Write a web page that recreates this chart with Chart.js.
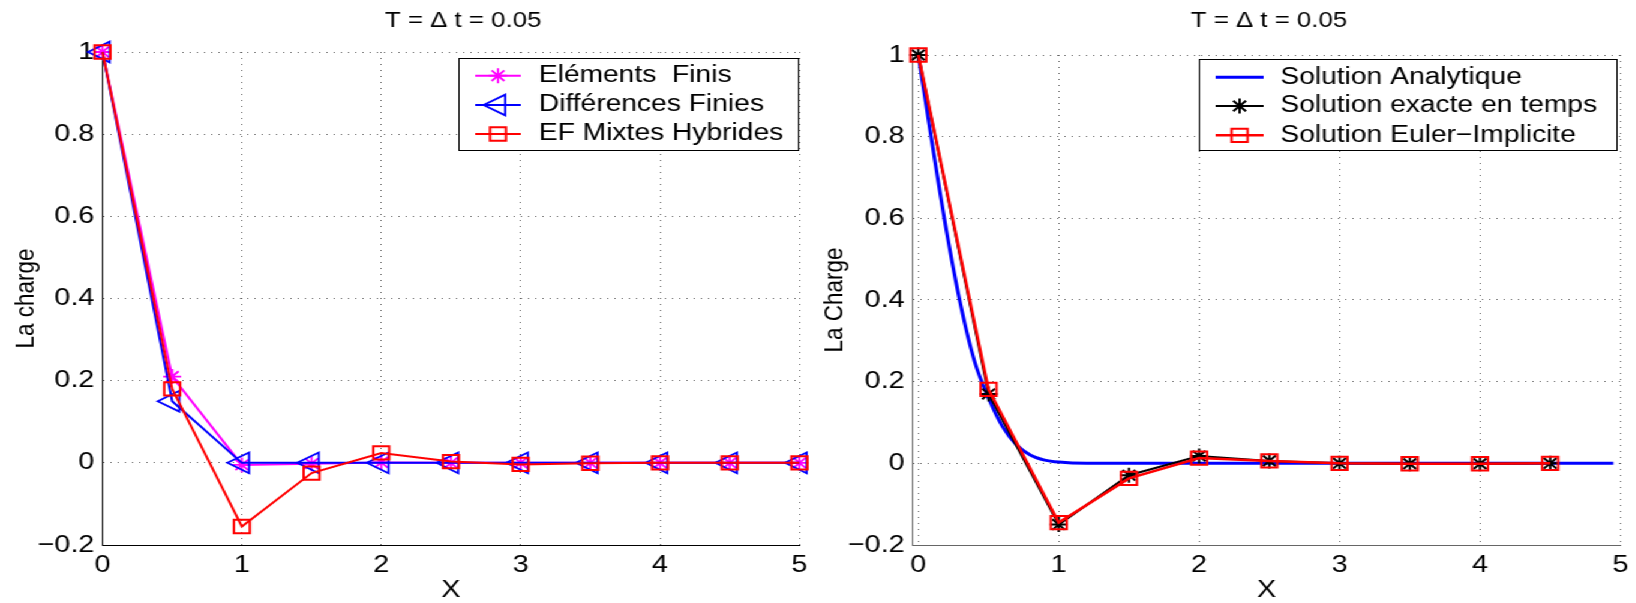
<!DOCTYPE html>
<html>
<head>
<meta charset="utf-8">
<script src="https://cdn.jsdelivr.net/npm/chart.js@4.4.1/dist/chart.umd.min.js"></script>
<style>
  html, body { margin: 0; padding: 0; background: #fff; }
  body { width: 1636px; height: 603px; overflow: hidden; position: relative; }
  /* the reference is horizontally stretched, so the whole stage is too */
  #stage { position: absolute; left: 0; top: 0; width: 1363px; height: 603px; transform: scaleX(1.2); transform-origin: 0 0; }
  canvas { position: absolute; top: 0; }
</style>
</head>
<body>
<div id="stage">
  <canvas id="left" width="680" height="603" style="left:0"></canvas>
  <canvas id="right" width="683" height="603" style="left:680px"></canvas>
</div>
<script>
// abscisses des noeuds
const xNodes = [0, 0.5, 1, 1.5, 2, 2.5, 3, 3.5, 4, 4.5, 5];
const xNodesRight = [0, 0.5, 1, 1.5, 2, 2.5, 3, 3.5, 4, 4.5];

// graphe de gauche
const elementsFinis = [1, 0.21, -0.005, -0.002, 0.001, 0, 0, 0, 0, 0, 0];
const differencesFinies = [1, 0.15, 0, 0, 0, 0, 0, 0, 0, 0, 0];
const efMixtesHybrides = [1, 0.18, -0.155, -0.025, 0.024, 0.003, -0.004, -0.001, 0, 0, 0];

// graphe de droite
const xAnalytique = [0, 0.1, 0.2, 0.3, 0.4, 0.5, 0.6, 0.7, 0.8, 0.9, 1.0, 1.2, 1.5, 2, 3, 4, 4.95];
const solutionAnalytique = [1, 0.78, 0.57, 0.39, 0.25, 0.16, 0.09, 0.045, 0.02, 0.008, 0.003, 0, 0, 0, 0, 0, 0];
const exacteEnTemps = [1, 0.17, -0.15, -0.029, 0.018, 0.006, 0, -0.001, -0.001, 0];
const eulerImplicite = [1, 0.181, -0.145, -0.037, 0.013, 0.006, 0, -0.001, -0.001, 0];

// graduations
const xTickValues = [0, 1, 2, 3, 4, 5];
const xTickLabels = ['0', '1', '2', '3', '4', '5'];
const yTickValues = [-0.2, 0, 0.2, 0.4, 0.6, 0.8, 1];
const yTickLabels = ['\u22120.2', '0', '0.2', '0.4', '0.6', '0.8', '1'];

const FONT = 'Liberation Sans, Arial, Helvetica, sans-serif';
const GRID = '#666';
const H = 603;

Chart.defaults.font.family = FONT;
Chart.defaults.color = '#000';

const pts = (xs, ys) => xs.map((x, i) => ({ x: x, y: ys[i] }));

// titre + legende encadree facon matlab
const decorPlugin = {
  id: 'decor',
  afterDraw(chart, args, opts) {
    const ctx = chart.ctx;
    ctx.save();
    ctx.fillStyle = '#000';
    ctx.font = '21.5px ' + FONT;
    ctx.textAlign = 'center';
    ctx.textBaseline = 'middle';
    ctx.fillText(opts.title.text, opts.title.x, opts.title.y);

    const lg = opts.legend;
    const [x0, y0, x1, y1] = lg.box;
    ctx.fillStyle = '#fff';
    ctx.fillRect(x0, y0, x1 - x0, y1 - y0);
    ctx.strokeStyle = '#000';
    ctx.lineWidth = 1;
    ctx.strokeRect(x0 + 0.5, y0 + 0.5, x1 - x0, y1 - y0);

    chart.data.datasets.forEach((ds, i) => {
      const y = lg.rows[i];
      ctx.strokeStyle = ds.borderColor;
      ctx.lineWidth = ds.borderWidth;
      ctx.beginPath();
      ctx.moveTo(lg.lineX[0], y);
      ctx.lineTo(lg.lineX[1], y);
      ctx.stroke();
      if (ds.pointRadius > 0 && Chart.helpers && Chart.helpers.drawPoint) {
        ctx.lineWidth = ds.pointBorderWidth;
        ctx.fillStyle = 'rgba(0,0,0,0)';
        Chart.helpers.drawPoint(ctx, {
          pointStyle: ds.pointStyle,
          rotation: ds.pointRotation || 0,
          radius: ds.pointRadius,
          borderWidth: ds.pointBorderWidth
        }, (lg.lineX[0] + lg.lineX[1]) / 2, y);
      }
      ctx.fillStyle = '#000';
      ctx.font = lg.fontSize + 'px ' + FONT;
      ctx.textAlign = 'left';
      ctx.textBaseline = 'middle';
      ctx.fillText(ds.label, lg.textX, y);
    });
    ctx.restore();
  }
};

function buildScales(geo, yTitle, axisColor) {
  return {
    x: {
      type: 'linear',
      position: 'bottom',
      min: geo.xMin,
      max: 5,
      afterBuildTicks: s => { s.ticks = xTickValues.map(v => ({ value: v })); },
      afterFit: s => { s.height = H - geo.bottom; },
      ticks: {
        padding: 6,
        maxRotation: 0,
        autoSkip: false,
        font: { size: 24 },
        color: '#000',
        callback: (v, i) => xTickLabels[i]
      },
      grid: { color: GRID, lineWidth: 1, drawTicks: false },
      border: { display: true, color: axisColor, width: 1, dash: [1, 5] },
      title: { display: true, text: 'X', color: '#000', padding: 0, font: { size: 24, lineHeight: 1.08 } }
    },
    y: {
      type: 'linear',
      position: 'left',
      min: -0.2,
      max: 1,
      afterBuildTicks: s => { s.ticks = yTickValues.map(v => ({ value: v })); },
      afterFit: s => { s.width = geo.left - geo.padLeft; },
      ticks: {
        padding: 6.7,
        autoSkip: false,
        font: { size: 24 },
        color: '#000',
        callback: (v, i) => yTickLabels[i]
      },
      grid: { color: GRID, lineWidth: 1, drawTicks: false },
      border: { display: true, color: axisColor, width: 1, dash: [1, 5] },
      title: { display: true, text: yTitle, color: '#000', padding: 0, font: { size: 22.5, lineHeight: 1.0 } }
    }
  };
}

function makeChart(id, datasets, geo, yTitle, axisColor, decor) {
  const canvas = document.getElementById(id);
  return new Chart(canvas, {
    type: 'line',
    data: { datasets: datasets },
    options: {
      responsive: false,
      animation: false,
      devicePixelRatio: 1,
      layout: { padding: { left: geo.padLeft, right: canvas.width - geo.right, top: geo.top, bottom: 0 } },
      scales: buildScales(geo, yTitle, axisColor),
      plugins: {
        legend: { display: false },
        tooltip: { enabled: false },
        decor: decor
      }
    },
    plugins: [decorPlugin]
  });
}

const hollow = 'rgba(0,0,0,0)';

makeChart('left', [
  {
    label: 'Eléments  Finis',
    data: pts(xNodes, elementsFinis),
    borderColor: '#ff00ff', borderWidth: 2,
    pointStyle: 'star', pointRadius: 7.5, pointBorderWidth: 1.8,
    pointBorderColor: '#ff00ff', pointBackgroundColor: hollow,
    order: 3, clip: false
  },
  {
    label: 'Différences Finies',
    data: pts(xNodes, differencesFinies),
    borderColor: '#0000ff', borderWidth: 2,
    pointStyle: 'triangle', pointRotation: -90, pointRadius: 12, pointBorderWidth: 1.8,
    pointBorderColor: '#0000ff', pointBackgroundColor: hollow,
    order: 2, clip: false
  },
  {
    label: 'EF Mixtes Hybrides',
    data: pts(xNodes, efMixtesHybrides),
    borderColor: '#ff0000', borderWidth: 2,
    pointStyle: 'rect', pointRadius: 9.4, pointBorderWidth: 2,
    pointBorderColor: '#ff0000', pointBackgroundColor: hollow,
    order: 1, clip: false
  }
], { xMin: 0, left: 85.4, right: 672.25, top: 52, bottom: 545, padLeft: 10.7 },
'La charge', '#000', {
  title: { text: 'T = \u0394 t = 0.05', x: 386, y: 21 },
  legend: { box: [382, 58, 665, 150], rows: [75.7, 105, 134], lineX: [396, 434], textX: 449, fontSize: 23.5 }
});

makeChart('right', [
  {
    label: 'Solution Analytique',
    data: pts(xAnalytique, solutionAnalytique),
    borderColor: '#0000ff', borderWidth: 3,
    pointRadius: 0, tension: 0.4, cubicInterpolationMode: 'monotone',
    order: 3, clip: false
  },
  {
    label: 'Solution exacte en temps',
    data: pts(xNodesRight, exacteEnTemps),
    borderColor: '#000000', borderWidth: 2,
    pointStyle: 'star', pointRadius: 7.5, pointBorderWidth: 2,
    pointBorderColor: '#000000', pointBackgroundColor: hollow,
    order: 2, clip: false
  },
  {
    label: 'Solution Euler\u2212Implicite',
    data: pts(xNodesRight, eulerImplicite),
    borderColor: '#ff0000', borderWidth: 2.5,
    pointStyle: 'rect', pointRadius: 9.4, pointBorderWidth: 2,
    pointBorderColor: '#ff0000', pointBackgroundColor: hollow,
    order: 1, clip: false
  }
], { xMin: -0.04, left: 80.6, right: 674.2, top: 55, bottom: 545, padLeft: 4.8 },
'La Charge', '#666', {
  title: { text: 'T = \u0394 t = 0.05', x: 377.5, y: 21 },
  legend: { box: [319, 59, 667, 150], rows: [77.3, 106, 135.3], lineX: [333, 373], textX: 387, fontSize: 23.5 }
});
</script>
</body>
</html>
